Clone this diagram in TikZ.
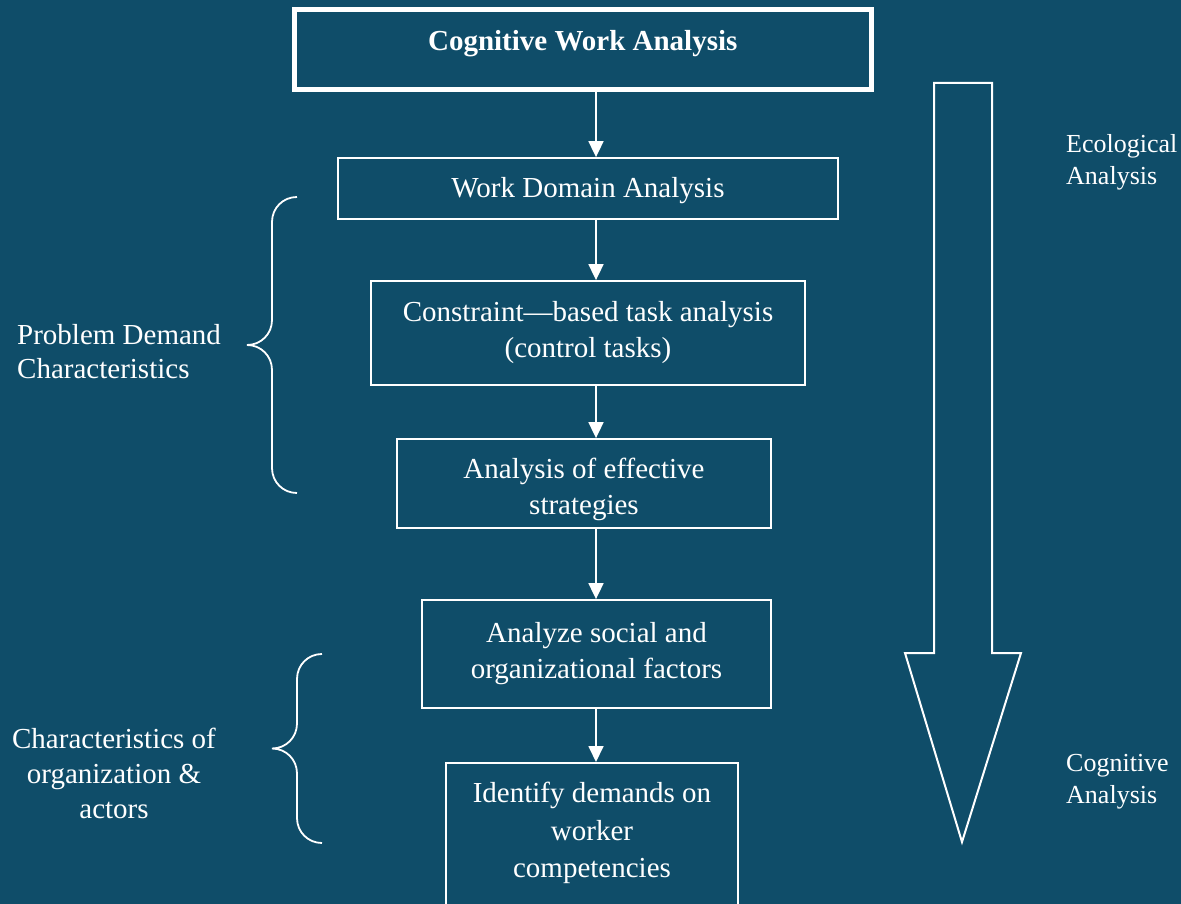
\documentclass[tikz,border=0pt]{standalone}
\usepackage{fontspec}
\setmainfont{Liberation Serif}
\usetikzlibrary{arrows.meta}
\definecolor{cwabg}{HTML}{0F4D69}
\def\sidebrace[#1](#2,#3)(#4){\draw[#1] ({#2+25},#3) .. controls ({#2+11},#3) and (#2,{#3+11}) .. (#2,{#3+25}) -- (#2,{(#3+#4)/2-25}) .. controls (#2,{(#3+#4)/2-11}) and ({#2-11},{(#3+#4)/2}) .. ({#2-25},{(#3+#4)/2}) .. controls ({#2-11},{(#3+#4)/2}) and (#2,{(#3+#4)/2+11}) .. (#2,{(#3+#4)/2+25}) -- (#2,{#4-25}) .. controls (#2,{#4-11}) and ({#2+11},#4) .. ({#2+25},#4);}
\tikzset{
  stage/.style={draw=white, line width=1.8pt, text=white, align=center, inner sep=0pt,
    font=\fontsize{29}{36}\selectfont},
  flow/.style={draw=white, line width=1.8pt, -{Triangle[width=15pt,length=16pt]}},
  sidenote/.style={text=white, inner sep=0pt, font=\fontsize{29}{34.5}\selectfont},
  phasenote/.style={text=white, inner sep=0pt, align=left, anchor=west, font=\fontsize{26}{32}\selectfont}
}

\begin{document}
\begin{tikzpicture}[x=1pt, y=-1pt]
			%%%%% START %%%%%
			\useasboundingbox (0,0) rectangle (1181,904);
			\fill[cwabg] (0,0) rectangle (1181,904);
			\clip (0,0) rectangle (1181,904);
			
			\coordinate (spine) at (596,0);
			
			\node[stage, line width=5pt, minimum width=576.5pt, minimum height=80.5pt, text height=20pt, text depth=18pt, font=\fontsize{29}{36}\selectfont\bfseries] (cwa) at (582.75,49.75) {Cognitive Work Analysis};
			
			\node[stage, minimum width=500pt, minimum height=61pt, text height=24pt] (wda) at (588,188.5) {Work Domain Analysis};
			\node[stage, minimum width=434pt, minimum height=104pt] (cta) at (588,333) {Constraint---based task analysis\\(control tasks)};
			\node[stage, minimum width=374pt, minimum height=89pt, text height=68pt] (strat) at (584,483.5) {Analysis of effective\\strategies};
			\node[stage, minimum width=349pt, minimum height=108pt] (social) at (596.5,654) {Analyze social and\\organizational factors};
			\node[stage, anchor=north, minimum width=292pt, minimum height=180pt] (demands) at (592,762) {};
			\node[stage, draw=none, font=\fontsize{29}{37.5}\selectfont] (demandstext) at (592,833) {Identify demands on\\worker\\competencies};
			
			\draw[flow] (cwa.south -| spine) -- (wda.north -| spine);
			\draw[flow] (wda.south -| spine) -- (cta.north -| spine);
			\draw[flow] (cta.south -| spine) -- (strat.north -| spine);
			\draw[flow] (strat.south -| spine) -- (social.north -| spine);
			\draw[flow] (social.south -| spine) -- (demands.north -| spine);
			
			% braces on the left
			\sidebrace[white, line width=1.8pt](272,197)(493)
			\node[sidenote, align=left, anchor=west] (problem) at (17,351.5) {Problem Demand\\Characteristics};
			
			\sidebrace[white, line width=1.8pt](297,654)(843)
			\node[sidenote, align=center, font=\fontsize{29}{35}\selectfont] (actors) at (114,773) {Characteristics of\\organization \&\\actors};
			
			% big arrow on the right
			\draw[white, line width=2pt, line join=miter] (934,83) -- (992,83) -- (992,653) -- (1021,653) -- (962,842) -- (905,653) -- (934,653) -- cycle;
			\node[phasenote] (ecological) at (1066,162) {Ecological\\Analysis};
			\node[phasenote] (cognitive) at (1066,782) {Cognitive\\Analysis};
			
			%%%%% END %%%%%
		\end{tikzpicture}
\end{document}
